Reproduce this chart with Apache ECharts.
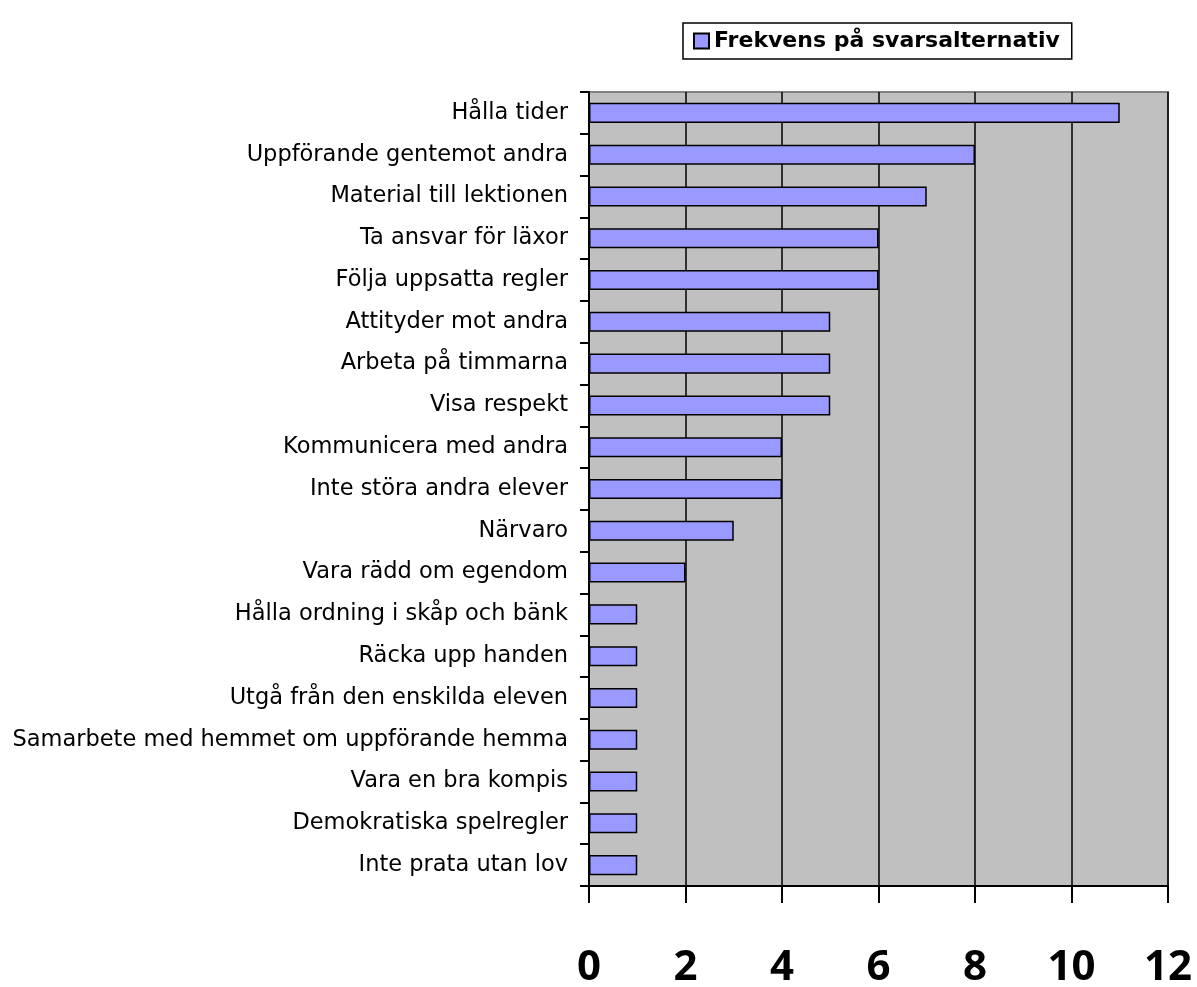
<!DOCTYPE html>
<html><head><meta charset="utf-8">
<script src="https://cdn.jsdelivr.net/npm/echarts@6/dist/echarts.min.js"></script>
<style>html,body{margin:0;padding:0;background:#fff}#c{width:1197px;height:987px}</style>
</head><body><div id="c"></div>
<script>
const categories = ["Hålla tider","Uppförande gentemot andra","Material till lektionen","Ta ansvar för läxor","Följa uppsatta regler","Attityder mot andra","Arbeta på timmarna","Visa respekt","Kommunicera med andra","Inte störa andra elever","Närvaro","Vara rädd om egendom","Hålla ordning i skåp och bänk","Räcka upp handen","Utgå från den enskilda eleven","Samarbete med hemmet om uppförande hemma","Vara en bra kompis","Demokratiska spelregler","Inte prata utan lov"];
const values = [11,8,7,6,6,5,5,5,4,4,3,2,1,1,1,1,1,1,1];
const seriesName = "Frekvens på svarsalternativ";
const chart = echarts.init(document.getElementById('c'));
chart.setOption({
  animation:false,
  legend:{top:23,left:683,itemWidth:15,itemHeight:15,itemGap:6,
    borderColor:'#000',borderWidth:1.5,padding:[7,12,7,10],
    textStyle:{fontFamily:'DejaVu Sans',fontWeight:'bold',fontSize:22,color:'#000'},
    data:[{name:seriesName,icon:'rect'}]},
  grid:{left:589,right:29,top:92,bottom:101,outerBoundsMode:'none',containLabel:false,show:true,backgroundColor:'#C0C0C0',borderColor:'#808080',borderWidth:2},
  xAxis:{type:'value',min:0,max:12,interval:2,
    axisLine:{show:true,lineStyle:{color:'#000',width:2}},
    axisTick:{show:true,length:17,lineStyle:{color:'#000',width:2}},
    splitLine:{show:true,lineStyle:{color:'#000',width:1.5}},
    axisLabel:{margin:61,fontFamily:'Open Sans',fontWeight:'bold',fontSize:42,color:'#000'}},
  yAxis:{type:'category',inverse:true,data:categories,
    axisLine:{show:true,lineStyle:{color:'#000',width:2}},
    axisTick:{show:true,length:9,lineStyle:{color:'#000',width:2}},
    axisLabel:{margin:21,fontFamily:'DejaVu Sans',fontSize:22.5,color:'#000'}},
  series:[{name:seriesName,type:'bar',data:values,barWidth:'48%',
    itemStyle:{color:'#9999FF',borderColor:'#000',borderWidth:1.5}}]
});
</script></body></html>
